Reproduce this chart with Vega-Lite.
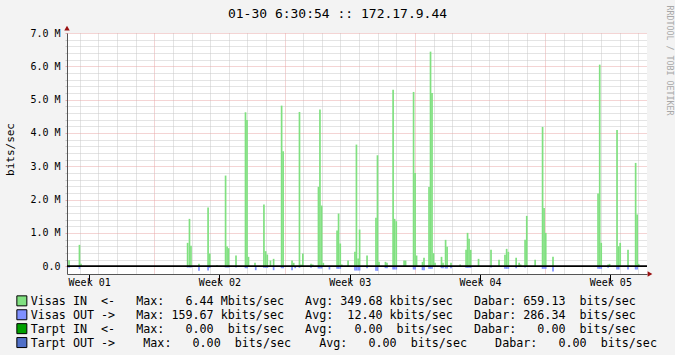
{
  "$schema": "https://vega.github.io/schema/vega-lite/v6.json",
  "width": 580,
  "height": 241,
  "autosize": {"type": "none"},
  "padding": {"left": 67, "top": 33, "right": 28, "bottom": 81},
  "background": "#f3f3f3",
  "config": {
    "font": "DejaVu Sans Mono",
    "view": {"fill": "#ffffff", "stroke": null},
    "axis": {"labelFont": "DejaVu Sans Mono", "titleFont": "DejaVu Sans Mono"}
  },
  "title": {
    "text": "01-30 6:30:54 :: 172.17.9.44",
    "font": "DejaVu Sans Mono",
    "fontSize": 13,
    "fontWeight": "normal",
    "color": "#000000",
    "anchor": "middle",
    "frame": "group",
    "dx": -19.5,
    "offset": -16
  },
  "data": {
    "values": [
      {"t": -4.58, "v": 0.18, "s": "Visas IN"},
      {"t": -4.02, "v": 0.64, "s": "Visas IN"},
      {"t": -3.94, "v": 0.07, "s": "Visas IN"},
      {"t": 1.79, "v": 0.70, "s": "Visas IN"},
      {"t": 1.89, "v": 1.42, "s": "Visas IN"},
      {"t": 1.97, "v": 0.61, "s": "Visas IN"},
      {"t": 2.40, "v": 0.07, "s": "Visas IN"},
      {"t": 2.89, "v": 1.76, "s": "Visas IN"},
      {"t": 2.98, "v": 0.38, "s": "Visas IN"},
      {"t": 3.37, "v": 0.03, "s": "Visas IN"},
      {"t": 3.83, "v": 2.72, "s": "Visas IN"},
      {"t": 3.91, "v": 0.59, "s": "Visas IN"},
      {"t": 3.99, "v": 0.54, "s": "Visas IN"},
      {"t": 4.39, "v": 0.32, "s": "Visas IN"},
      {"t": 4.90, "v": 4.62, "s": "Visas IN"},
      {"t": 4.98, "v": 4.39, "s": "Visas IN"},
      {"t": 5.06, "v": 0.28, "s": "Visas IN"},
      {"t": 5.41, "v": 0.10, "s": "Visas IN"},
      {"t": 5.89, "v": 1.85, "s": "Visas IN"},
      {"t": 5.98, "v": 0.45, "s": "Visas IN"},
      {"t": 6.07, "v": 0.35, "s": "Visas IN"},
      {"t": 6.24, "v": 0.17, "s": "Visas IN"},
      {"t": 6.41, "v": 0.22, "s": "Visas IN"},
      {"t": 6.84, "v": 4.82, "s": "Visas IN"},
      {"t": 6.92, "v": 3.45, "s": "Visas IN"},
      {"t": 7.40, "v": 0.17, "s": "Visas IN"},
      {"t": 7.49, "v": 0.10, "s": "Visas IN"},
      {"t": 7.80, "v": 4.63, "s": "Visas IN"},
      {"t": 7.88, "v": 0.05, "s": "Visas IN"},
      {"t": 7.98, "v": 0.38, "s": "Visas IN"},
      {"t": 8.42, "v": 0.07, "s": "Visas IN"},
      {"t": 8.51, "v": 0.05, "s": "Visas IN"},
      {"t": 8.82, "v": 2.38, "s": "Visas IN"},
      {"t": 8.90, "v": 4.70, "s": "Visas IN"},
      {"t": 8.99, "v": 1.82, "s": "Visas IN"},
      {"t": 9.08, "v": 0.10, "s": "Visas IN"},
      {"t": 9.82, "v": 1.07, "s": "Visas IN"},
      {"t": 9.90, "v": 1.58, "s": "Visas IN"},
      {"t": 9.99, "v": 0.68, "s": "Visas IN"},
      {"t": 10.07, "v": 0.05, "s": "Visas IN"},
      {"t": 10.41, "v": 0.17, "s": "Visas IN"},
      {"t": 10.78, "v": 0.43, "s": "Visas IN"},
      {"t": 10.86, "v": 3.65, "s": "Visas IN"},
      {"t": 10.95, "v": 0.23, "s": "Visas IN"},
      {"t": 11.03, "v": 1.10, "s": "Visas IN"},
      {"t": 11.43, "v": 0.32, "s": "Visas IN"},
      {"t": 11.91, "v": 1.45, "s": "Visas IN"},
      {"t": 11.99, "v": 3.33, "s": "Visas IN"},
      {"t": 12.07, "v": 0.13, "s": "Visas IN"},
      {"t": 12.42, "v": 0.13, "s": "Visas IN"},
      {"t": 12.50, "v": 0.10, "s": "Visas IN"},
      {"t": 12.83, "v": 5.30, "s": "Visas IN"},
      {"t": 12.91, "v": 1.42, "s": "Visas IN"},
      {"t": 13.00, "v": 1.35, "s": "Visas IN"},
      {"t": 13.42, "v": 0.17, "s": "Visas IN"},
      {"t": 13.50, "v": 0.17, "s": "Visas IN"},
      {"t": 13.93, "v": 5.23, "s": "Visas IN"},
      {"t": 14.01, "v": 2.80, "s": "Visas IN"},
      {"t": 14.09, "v": 0.32, "s": "Visas IN"},
      {"t": 14.41, "v": 0.13, "s": "Visas IN"},
      {"t": 14.49, "v": 0.25, "s": "Visas IN"},
      {"t": 14.76, "v": 2.38, "s": "Visas IN"},
      {"t": 14.84, "v": 6.44, "s": "Visas IN"},
      {"t": 14.92, "v": 5.20, "s": "Visas IN"},
      {"t": 15.00, "v": 0.39, "s": "Visas IN"},
      {"t": 15.08, "v": 0.10, "s": "Visas IN"},
      {"t": 15.43, "v": 0.28, "s": "Visas IN"},
      {"t": 15.51, "v": 0.10, "s": "Visas IN"},
      {"t": 15.65, "v": 0.79, "s": "Visas IN"},
      {"t": 15.73, "v": 0.58, "s": "Visas IN"},
      {"t": 15.94, "v": 0.10, "s": "Visas IN"},
      {"t": 16.43, "v": 0.05, "s": "Visas IN"},
      {"t": 16.75, "v": 0.49, "s": "Visas IN"},
      {"t": 16.83, "v": 1.00, "s": "Visas IN"},
      {"t": 16.91, "v": 0.82, "s": "Visas IN"},
      {"t": 17.00, "v": 0.49, "s": "Visas IN"},
      {"t": 17.42, "v": 0.22, "s": "Visas IN"},
      {"t": 18.09, "v": 0.49, "s": "Visas IN"},
      {"t": 18.52, "v": 0.19, "s": "Visas IN"},
      {"t": 18.84, "v": 0.34, "s": "Visas IN"},
      {"t": 18.93, "v": 0.52, "s": "Visas IN"},
      {"t": 19.02, "v": 0.43, "s": "Visas IN"},
      {"t": 19.44, "v": 0.25, "s": "Visas IN"},
      {"t": 19.60, "v": 0.10, "s": "Visas IN"},
      {"t": 19.68, "v": 0.05, "s": "Visas IN"},
      {"t": 19.92, "v": 0.79, "s": "Visas IN"},
      {"t": 20.01, "v": 1.51, "s": "Visas IN"},
      {"t": 20.46, "v": 0.19, "s": "Visas IN"},
      {"t": 20.86, "v": 4.18, "s": "Visas IN"},
      {"t": 20.94, "v": 1.75, "s": "Visas IN"},
      {"t": 21.03, "v": 1.00, "s": "Visas IN"},
      {"t": 21.42, "v": 0.28, "s": "Visas IN"},
      {"t": 23.84, "v": 2.18, "s": "Visas IN"},
      {"t": 23.93, "v": 6.05, "s": "Visas IN"},
      {"t": 24.01, "v": 0.70, "s": "Visas IN"},
      {"t": 24.38, "v": 0.05, "s": "Visas IN"},
      {"t": 24.46, "v": 0.07, "s": "Visas IN"},
      {"t": 24.86, "v": 4.09, "s": "Visas IN"},
      {"t": 24.95, "v": 0.60, "s": "Visas IN"},
      {"t": 25.03, "v": 0.70, "s": "Visas IN"},
      {"t": 25.45, "v": 0.49, "s": "Visas IN"},
      {"t": 25.86, "v": 3.10, "s": "Visas IN"},
      {"t": 25.94, "v": 1.55, "s": "Visas IN"},
      {"t": 26.02, "v": 0.07, "s": "Visas IN"},
      {"t": -4.58, "v": -0.05, "s": "Visas OUT"},
      {"t": -4.02, "v": -0.08, "s": "Visas OUT"},
      {"t": 1.79, "v": -0.04, "s": "Visas OUT"},
      {"t": 1.89, "v": -0.04, "s": "Visas OUT"},
      {"t": 1.97, "v": -0.04, "s": "Visas OUT"},
      {"t": 2.40, "v": -0.14, "s": "Visas OUT"},
      {"t": 2.89, "v": -0.13, "s": "Visas OUT"},
      {"t": 2.98, "v": -0.05, "s": "Visas OUT"},
      {"t": 3.83, "v": -0.04, "s": "Visas OUT"},
      {"t": 3.91, "v": -0.04, "s": "Visas OUT"},
      {"t": 3.99, "v": -0.04, "s": "Visas OUT"},
      {"t": 4.39, "v": -0.04, "s": "Visas OUT"},
      {"t": 4.90, "v": -0.06, "s": "Visas OUT"},
      {"t": 4.98, "v": -0.06, "s": "Visas OUT"},
      {"t": 5.45, "v": -0.12, "s": "Visas OUT"},
      {"t": 5.89, "v": -0.05, "s": "Visas OUT"},
      {"t": 5.98, "v": -0.05, "s": "Visas OUT"},
      {"t": 6.07, "v": -0.05, "s": "Visas OUT"},
      {"t": 6.41, "v": -0.12, "s": "Visas OUT"},
      {"t": 6.84, "v": -0.06, "s": "Visas OUT"},
      {"t": 6.92, "v": -0.06, "s": "Visas OUT"},
      {"t": 7.40, "v": -0.12, "s": "Visas OUT"},
      {"t": 7.57, "v": -0.06, "s": "Visas OUT"},
      {"t": 7.80, "v": -0.05, "s": "Visas OUT"},
      {"t": 8.42, "v": -0.05, "s": "Visas OUT"},
      {"t": 8.82, "v": -0.07, "s": "Visas OUT"},
      {"t": 8.90, "v": -0.07, "s": "Visas OUT"},
      {"t": 8.99, "v": -0.07, "s": "Visas OUT"},
      {"t": 9.41, "v": -0.10, "s": "Visas OUT"},
      {"t": 9.82, "v": -0.08, "s": "Visas OUT"},
      {"t": 9.90, "v": -0.08, "s": "Visas OUT"},
      {"t": 9.99, "v": -0.08, "s": "Visas OUT"},
      {"t": 10.78, "v": -0.13, "s": "Visas OUT"},
      {"t": 10.86, "v": -0.13, "s": "Visas OUT"},
      {"t": 10.95, "v": -0.13, "s": "Visas OUT"},
      {"t": 11.03, "v": -0.13, "s": "Visas OUT"},
      {"t": 11.43, "v": -0.06, "s": "Visas OUT"},
      {"t": 11.91, "v": -0.14, "s": "Visas OUT"},
      {"t": 11.99, "v": -0.14, "s": "Visas OUT"},
      {"t": 12.42, "v": -0.06, "s": "Visas OUT"},
      {"t": 12.50, "v": -0.06, "s": "Visas OUT"},
      {"t": 12.83, "v": -0.10, "s": "Visas OUT"},
      {"t": 12.91, "v": -0.10, "s": "Visas OUT"},
      {"t": 13.00, "v": -0.10, "s": "Visas OUT"},
      {"t": 13.93, "v": -0.10, "s": "Visas OUT"},
      {"t": 14.01, "v": -0.10, "s": "Visas OUT"},
      {"t": 14.41, "v": -0.12, "s": "Visas OUT"},
      {"t": 14.49, "v": -0.12, "s": "Visas OUT"},
      {"t": 14.76, "v": -0.08, "s": "Visas OUT"},
      {"t": 14.84, "v": -0.08, "s": "Visas OUT"},
      {"t": 14.92, "v": -0.08, "s": "Visas OUT"},
      {"t": 15.43, "v": -0.06, "s": "Visas OUT"},
      {"t": 15.51, "v": -0.06, "s": "Visas OUT"},
      {"t": 15.65, "v": -0.07, "s": "Visas OUT"},
      {"t": 15.73, "v": -0.07, "s": "Visas OUT"},
      {"t": 15.94, "v": -0.06, "s": "Visas OUT"},
      {"t": 16.75, "v": -0.05, "s": "Visas OUT"},
      {"t": 16.83, "v": -0.05, "s": "Visas OUT"},
      {"t": 16.91, "v": -0.05, "s": "Visas OUT"},
      {"t": 17.00, "v": -0.05, "s": "Visas OUT"},
      {"t": 18.09, "v": -0.04, "s": "Visas OUT"},
      {"t": 18.84, "v": -0.08, "s": "Visas OUT"},
      {"t": 18.93, "v": -0.08, "s": "Visas OUT"},
      {"t": 19.02, "v": -0.08, "s": "Visas OUT"},
      {"t": 19.44, "v": -0.06, "s": "Visas OUT"},
      {"t": 19.92, "v": -0.04, "s": "Visas OUT"},
      {"t": 20.86, "v": -0.08, "s": "Visas OUT"},
      {"t": 20.94, "v": -0.08, "s": "Visas OUT"},
      {"t": 21.03, "v": -0.08, "s": "Visas OUT"},
      {"t": 21.42, "v": -0.16, "s": "Visas OUT"},
      {"t": 23.84, "v": -0.08, "s": "Visas OUT"},
      {"t": 23.93, "v": -0.08, "s": "Visas OUT"},
      {"t": 24.01, "v": -0.08, "s": "Visas OUT"},
      {"t": 24.38, "v": -0.05, "s": "Visas OUT"},
      {"t": 24.86, "v": -0.10, "s": "Visas OUT"},
      {"t": 24.95, "v": -0.10, "s": "Visas OUT"},
      {"t": 25.45, "v": -0.10, "s": "Visas OUT"},
      {"t": 25.86, "v": -0.10, "s": "Visas OUT"},
      {"t": 25.94, "v": -0.10, "s": "Visas OUT"}
    ]
  },
  "layer": [
    {
      "mark": {"type": "bar", "size": 1.7, "clip": true},
      "encoding": {
        "x": {
          "field": "t", "type": "quantitative",
          "scale": {"domain": [-4.69, 26.47], "nice": false, "padding": 0},
          "axis": {
            "orient": "top", "title": null, "labels": false, "ticks": false, "domain": false,
            "grid": true,
            "values": [-4,-3,-2,-1,0,1,2,3,4,5,6,7,8,9,10,11,12,13,14,15,16,17,18,19,20,21,22,23,24,25,26],
            "gridColor": {"condition": {"test": "datum.value % 7 == 0", "value": "#e8a8a8"}, "value": "#c8c8c8"},
            "gridDash": [1, 1],
            "gridWidth": 1
          }
        },
        "y": {
          "field": "v", "type": "quantitative",
          "scale": {"domain": [-0.235, 7.0], "nice": false, "padding": 0},
          "axis": {
            "orient": "left",
            "values": [0,0.2,0.4,0.6,0.8,1,1.2,1.4,1.6,1.8,2,2.2,2.4,2.6,2.8,3,3.2,3.4,3.6,3.8,4,4.2,4.4,4.6,4.8,5,5.2,5.4,5.6,5.8,6,6.2,6.4,6.6,6.8,7],
            "grid": true,
            "gridColor": {"condition": {"test": "datum.value % 1 == 0", "value": "#e8a8a8"}, "value": "#c8c8c8"},
            "gridDash": [1, 1],
            "tickSize": 2,
            "tickColor": {"condition": {"test": "datum.value % 1 == 0", "value": "#e8a8a8"}, "value": "#c8c8c8"},
            "domain": true,
            "domainColor": "#555555",
            "labelExpr": "datum.value % 1 == 0 ? (datum.value == 0 ? '0.0' : format(datum.value, '.1f') + ' M') : ''",
            "labelFont": "DejaVu Sans Mono",
            "labelFontSize": 10,
            "labelColor": "#000000",
            "labelPadding": 5,
            "labelOverlap": false,
            "labelFlush": false,
            "title": "bits/sec",
            "titleFont": "DejaVu Sans Mono",
            "titleFontSize": 11,
            "titleFontWeight": "normal",
            "titleColor": "#000000",
            "titleAngle": 270,
            "titleX": -57,
            "titleY": 116,
            "titleAlign": "center",
            "titleBaseline": "middle"
          }
        },
        "y2": {"datum": 0},
        "color": {
          "field": "s", "type": "nominal",
          "scale": {
            "domain": ["Visas IN", "Visas OUT", "Tarpt IN", "Tarpt OUT"],
            "range": ["#80e080", "#7f90ff", "#00a000", "#5070c8"]
          },
          "legend": {
            "orient": "none",
            "legendX": -51,
            "legendY": 262,
            "direction": "vertical",
            "title": null,
            "padding": 0,
            "symbolType": "square",
            "symbolSize": 100,
            "symbolStrokeColor": "#000000",
            "symbolStrokeWidth": 1,
            "symbolOpacity": 1,
            "labelFont": "DejaVu Sans Mono",
            "labelFontSize": 11.7,
            "labelColor": "#000000",
            "labelLimit": 2000,
            "labelOffset": 3,
            "rowPadding": -1.1,
            "labelExpr": "replace(datum.label == 'Visas IN' ? 'Visas IN  <-   Max:   6.44 Mbits/sec   Avg: 349.68 kbits/sec   Dabar: 659.13  bits/sec' : datum.label == 'Visas OUT' ? 'Visas OUT ->   Max: 159.67 kbits/sec   Avg:  12.40 kbits/sec   Dabar: 286.34  bits/sec' : datum.label == 'Tarpt IN' ? 'Tarpt IN  <-   Max:   0.00  bits/sec   Avg:   0.00  bits/sec   Dabar:   0.00  bits/sec' : 'Tarpt OUT ->    Max:   0.00  bits/sec    Avg:   0.00  bits/sec    Dabar:   0.00  bits/sec', regexp(' ', 'g'), '\u00a0')"
          }
        }
      }
    },
    {
      "data": {"values": [{}]},
      "mark": {"type": "rule", "color": "#000000", "strokeWidth": 1.7},
      "encoding": {
        "y": {"datum": 0, "type": "quantitative", "scale": {"domain": [-0.235, 7.0], "nice": false, "padding": 0}, "axis": null}
      }
    },
    {
      "data": {"values": [{}]},
      "mark": {"type": "point", "shape": "triangle-right", "filled": true, "color": "#9a1010", "size": 30, "opacity": 1, "clip": false},
      "encoding": {
        "x": {
          "datum": 26.63, "type": "quantitative",
          "scale": {"domain": [-4.69, 26.47], "nice": false, "padding": 0},
          "axis": {
            "orient": "bottom",
            "values": [-3.5, 3.5, 10.5, 17.5, 24.5],
            "labelExpr": "'Week 0' + (round((datum.value + 3.5) / 7) + 1)",
            "grid": false,
            "domain": true,
            "domainColor": "#555555",
            "ticks": true,
            "tickSize": 7,
            "tickColor": "#000000",
            "labelFont": "DejaVu Sans Mono",
            "labelFontSize": 10,
            "labelColor": "#000000",
            "labelPadding": -4,
            "labelFlush": false,
            "labelOverlap": false,
            "title": null
          }
        },
        "y": {
          "datum": -0.235, "type": "quantitative",
          "scale": {"domain": [-0.235, 7.0], "nice": false, "padding": 0},
          "axis": {
            "orient": "right",
            "labels": false, "ticks": false, "domain": false, "grid": false,
            "title": "RRDTOOL / TOBI OETIKER",
            "titleFont": "DejaVu Sans Mono",
            "titleFontSize": 8.3,
            "titleFontWeight": "normal",
            "titleColor": "#a8a8a8",
            "titleAngle": 90,
            "titleX": 21,
            "titleY": 27,
            "titleAlign": "center",
            "titleBaseline": "middle"
          }
        }
      }
    },
    {
      "data": {"values": [{}]},
      "mark": {"type": "point", "shape": "triangle-up", "filled": true, "color": "#9a1010", "size": 30, "opacity": 1, "clip": false},
      "encoding": {
        "x": {"datum": -4.69, "type": "quantitative", "scale": {"domain": [-4.69, 26.47], "nice": false, "padding": 0}, "axis": null},
        "y": {"datum": 7.15, "type": "quantitative", "scale": {"domain": [-0.235, 7.0], "nice": false, "padding": 0}, "axis": null}
      }
    }
  ],
  "resolve": {"axis": {"x": "independent", "y": "independent"}}
}
